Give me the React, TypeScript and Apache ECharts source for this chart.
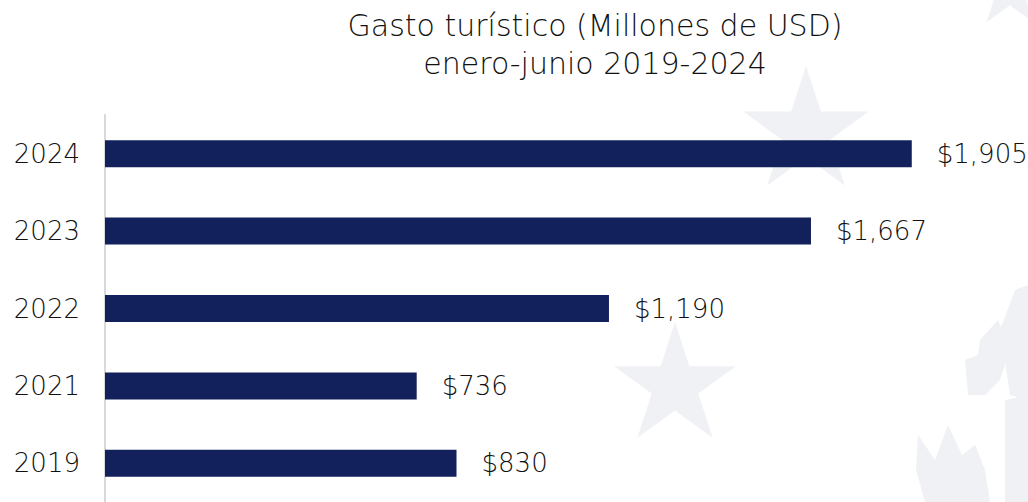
import React, { useEffect, useRef } from "react";
import * as echarts from "echarts";

const categories = ["2019", "2021", "2022", "2023", "2024"];
const values = [830, 736, 1190, 1667, 1905];
const titleLines = ["Gasto turístico (Millones de USD)", "enero-junio 2019-2024"];

const FONT = "'DejaVu Sans', sans-serif";
const WM = "#eff1f5";

function starPoints(cx: number, cy: number, R: number): number[][] {
  const r = R * 0.382;
  const pts: number[][] = [];
  for (let i = 0; i < 10; i++) {
    const a = -Math.PI / 2 + (i * Math.PI) / 5;
    const rad = i % 2 === 0 ? R : r;
    pts.push([cx + rad * Math.cos(a), cy + rad * Math.sin(a)]);
  }
  return pts;
}

export default function App() {
  const ref = useRef<HTMLDivElement>(null);
  useEffect(() => {
    if (!ref.current) return;
    const chart = echarts.init(ref.current, undefined, { renderer: "svg" });
    chart.setOption({
      animation: false,
      backgroundColor: "#ffffff",
      graphic: [
        { type: "polygon", z: -10, shape: { points: starPoints(806, 132, 66) }, style: { fill: WM } },
        { type: "polygon", z: -10, shape: { points: starPoints(675, 386, 64) }, style: { fill: WM } },
        { type: "polygon", z: -10, shape: { points: starPoints(1010, -10, 40) }, style: { fill: WM } },
        {
          type: "polygon", z: -10,
          shape: { points: [[918, 435], [935, 460], [948, 425], [962, 455], [975, 445], [985, 470], [990, 502], [925, 502], [916, 470]] },
          style: { fill: WM },
        },
        {
          type: "polygon", z: -10,
          shape: { points: [[965, 360], [978, 355], [980, 340], [998, 320], [1010, 350], [1000, 380], [985, 395], [968, 395]] },
          style: { fill: WM },
        },
        {
          type: "polygon", z: -10,
          shape: { points: [[1000, 330], [1015, 290], [1028, 285], [1028, 400], [1010, 395], [1005, 360]] },
          style: { fill: WM },
        },
        {
          type: "polygon", z: -10,
          shape: { points: [[1005, 400], [1028, 395], [1028, 502], [1005, 502]] },
          style: { fill: WM },
        },
        {
          type: "text", x: 595, y: 6,
          style: {
            text: titleLines.join("\n"), fill: "#111111", font: `200 30px ${FONT}`,
            textAlign: "center", lineHeight: 38,
          },
        },
      ],
      grid: { left: 105, right: 76, top: 115, bottom: -1, containLabel: false },
      xAxis: { type: "value", min: 0, max: 2000, show: false },
      yAxis: {
        type: "category",
        data: categories,
        axisLine: { show: true, lineStyle: { color: "#d9d9d9", width: 2 } },
        axisTick: { show: false },
        axisLabel: { color: "#111111", fontFamily: FONT, fontWeight: 200, fontSize: 26, margin: 25 },
      },
      series: [
        {
          type: "bar",
          data: values,
          barWidth: 27,
          itemStyle: { color: "#12205c" },
          label: {
            show: true,
            position: "right",
            distance: 25,
            color: "#111111",
            fontFamily: FONT,
            fontWeight: 200,
            fontSize: 26,
            formatter: (p: any) => "$" + Number(p.value).toLocaleString("en-US"),
          },
        },
      ],
    });
    return () => chart.dispose();
  }, []);
  return (
    <div
      ref={ref}
      style={{ position: "fixed", left: 0, top: 0, width: 1028, height: 502, background: "#fff" }}
    />
  );
}
